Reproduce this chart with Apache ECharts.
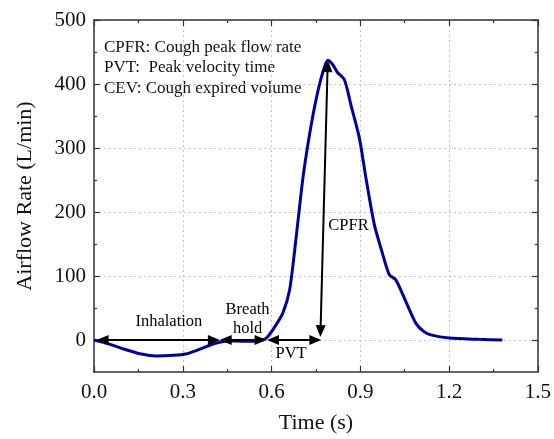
<!DOCTYPE html>
<html>
<head>
    <meta charset="utf-8">
    <title>Airflow Rate</title>
    <script src="https://cdn.jsdelivr.net/npm/echarts@6/dist/echarts.min.js"></script>
    <style>
        html, body { margin: 0; padding: 0; background: #fff; }
        #main { width: 554px; height: 439px; }
    </style>
</head>
<body>
    <div id="main"></div>
    <script type="text/javascript">
        // 曲线数据 (时间 s / 气流 L/min)
        var timeData = [0, 0.05, 0.1, 0.16, 0.21, 0.27, 0.31, 0.36, 0.41, 0.46, 0.5, 0.55, 0.582, 0.61, 0.638, 0.661, 0.683, 0.706, 0.728, 0.751, 0.773, 0.79, 0.807, 0.823, 0.846, 0.869, 0.897, 0.919, 0.947, 0.975, 0.998, 1.02, 1.054, 1.088, 1.115, 1.138, 1.2, 1.3, 1.38];
        var flowData = [0, -6, -14, -22, -25, -24, -22, -14, -5, -1.5, -2, -2, 3, 20, 42, 78, 160, 253, 320, 377, 418, 437, 430, 418, 407, 366, 315, 253, 181, 135, 102, 94, 60, 26, 13, 8, 3, 1, 0];

        var xTicks = [0, 0.3, 0.6, 0.9, 1.2, 1.5];
        var yTicks = [0, 100, 200, 300, 400, 500];
        var yMinorTicks = [50, 150, 250, 350, 450];

        // 标注箭头 [起点, 终点]
        var arrowLines = [
            [[0.029, 0], [0.405, 0]],
            [[0.445, 0], [0.563, 0]],
            [[0.605, 0], [0.748, 0]],
            [[0.7655, 14], [0.7895, 428]]
        ];
        // 标注文字
        var noteNames = ['Inhalation', 'Breath', 'hold', 'PVT', 'CPFR'];
        var noteTimes = [0.253, 0.519, 0.519, 0.666, 0.86];
        var noteFlows = [29, 48, 17, -22, 179];

        var legendLines = ['CPFR: Cough peak flow rate', 'PVT:  Peak velocity time', 'CEV: Cough expired volume'];

        var serif = "'Liberation Serif', 'DejaVu Serif', serif";
        var axisColor = '#333';
        var gridLine = { show: true, lineStyle: { color: '#c4c4c4', width: 1, type: [2, 3] } };

        var curve = [];
        for (var i = 0; i < timeData.length; i++) curve.push([timeData[i], flowData[i]]);
        var notes = [];
        for (var j = 0; j < noteNames.length; j++) notes.push({ name: noteNames[j], value: [noteTimes[j], noteFlows[j]] });
        var markData = arrowLines.map(function (a) {
            return [{ coord: a[0] }, { coord: a[1] }];
        });

        function xAxisCfg(pos, labels) {
            return {
                type: 'value', position: pos, min: 0, max: 1.5, interval: 0.3,
                axisLine: { show: true, onZero: false, lineStyle: { color: axisColor, width: 1.5 } },
                axisTick: { show: true, inside: true, length: 6, lineStyle: { color: axisColor, width: 1.2 } },
                minorTick: { show: true, splitNumber: 2, length: 3, lineStyle: { color: axisColor, width: 1.2 } },
                axisLabel: {
                    show: labels, margin: 10, fontSize: 21, fontFamily: serif, color: '#111',
                    formatter: function (v) { return v.toFixed(1); }
                },
                splitLine: labels ? gridLine : { show: false },
                name: labels ? 'Time (s)' : '', nameLocation: 'middle', nameGap: 40,
                nameTextStyle: { fontSize: 22, fontFamily: serif, color: '#111' }
            };
        }

        function yAxisCfg(pos, major, labels) {
            return {
                type: 'value', position: pos, min: -50, max: 500,
                axisLine: { show: major, onZero: false, lineStyle: { color: axisColor, width: 1.5 } },
                axisTick: { show: true, inside: true, length: major ? 6 : 3, customValues: major ? yTicks : yMinorTicks, lineStyle: { color: axisColor, width: 1.2 } },
                axisLabel: { show: labels, customValues: yTicks, margin: 8, fontSize: 21, fontFamily: serif, color: '#111' },
                splitLine: labels ? gridLine : { show: false },
                name: labels ? 'Airflow Rate (L/min)' : '', nameLocation: 'middle', nameGap: 58,
                nameTextStyle: { fontSize: 22, fontFamily: serif, color: '#111' }
            };
        }

        var myChart = echarts.init(document.getElementById('main'));
        var option = {
            animation: false,
            backgroundColor: '#fff',
            grid: { left: 94, right: 15, top: 20, bottom: 62 },
            xAxis: [xAxisCfg('bottom', true), xAxisCfg('top', false)],
            yAxis: [yAxisCfg('left', true, true), yAxisCfg('left', false, false), yAxisCfg('right', true, false), yAxisCfg('right', false, false)],
            graphic: [{
                type: 'text', left: 104, top: 37, silent: true,
                style: { text: legendLines.join('\n'), fontSize: 17, lineHeight: 20.5, fontFamily: serif, fill: '#111' }
            }],
            series: [
                {
                    type: 'line', data: curve, smooth: 0.25, showSymbol: false,
                    lineStyle: { color: '#0000a0', width: 3 },
                    markLine: {
                        silent: true, animation: false,
                        symbol: ['triangle', 'triangle'], symbolSize: [10, 12],
                        label: { show: false },
                        lineStyle: { color: '#000', width: 2, type: 'solid' },
                        data: markData
                    },
                    z: 3
                },
                {
                    type: 'scatter', data: notes, symbolSize: 1, silent: true,
                    itemStyle: { color: '#fff', opacity: 1 },
                    label: {
                        show: true, position: 'inside', formatter: '{b}', opacity: 1,
                        fontSize: 16.5, fontFamily: serif, color: '#000',
                        textBorderWidth: 0, textBorderColor: 'transparent'
                    },
                    z: 4
                }
            ]
        };
        myChart.setOption(option);
    </script>
</body>
</html>
